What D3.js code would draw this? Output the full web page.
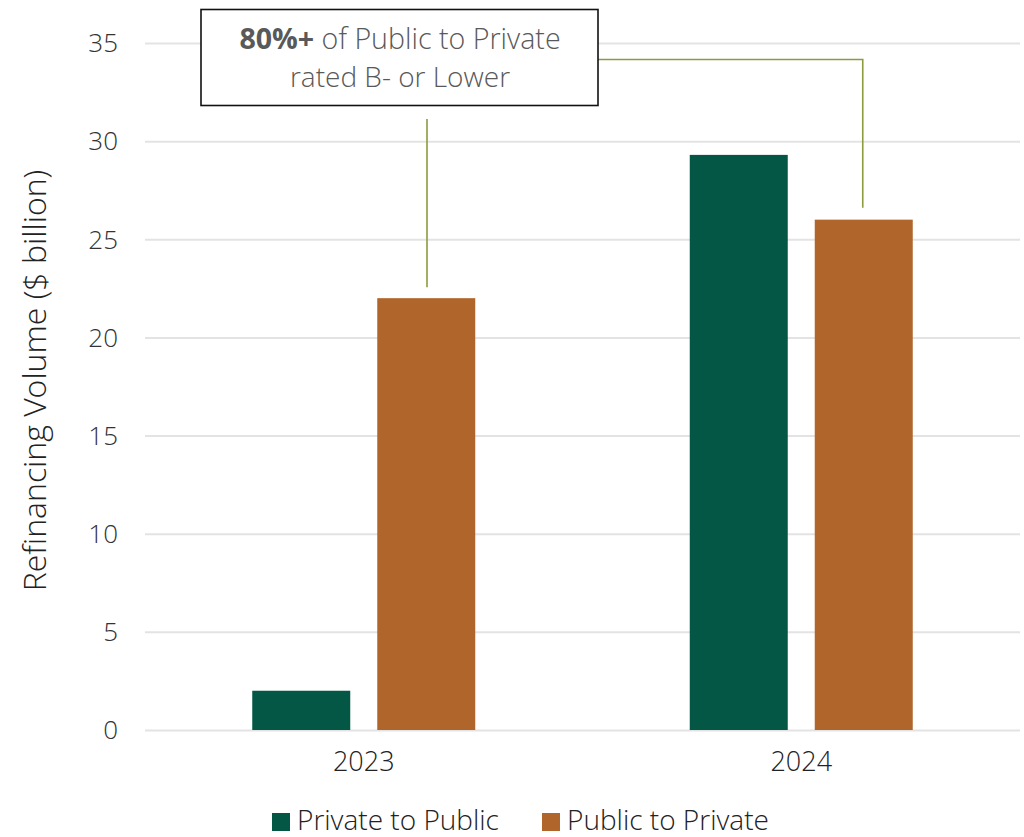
<!DOCTYPE html>
<html>
<head>
<meta charset="utf-8">
<script src="https://cdn.jsdelivr.net/npm/d3@7"></script>
<style>
  html, body { margin: 0; padding: 0; background: #fff; }
  svg { display: block; }
  text { font-family: "Open Sans", "Noto Sans", sans-serif; font-weight: 300; }
</style>
</head>
<body>
<svg id="chart" width="1024" height="837"></svg>
<script>
// Refinancing volume by year and direction ($ billion)
const years = ["2023", "2024"];
const seriesNames = ["Private to Public", "Public to Private"];
const privateToPublic = [2.0, 29.3];
const publicToPrivate = [22.0, 26.0];
const yTicks = [0, 5, 10, 15, 20, 25, 30, 35];
const seriesColors = ["#035744", "#b0662a"];
const axisTitle = "Refinancing Volume ($ billion)";
const calloutBold = "80%+";
const calloutRest = " of Public to Private";
const calloutLine2 = "rated B- or Lower";

const svg = d3.select("#chart");
const margin = { left: 145, right: 4, top: 43, bottom: 107 };
const W = 1024, H = 837;

const x0 = d3.scaleBand().domain(years).range([margin.left, W - margin.right]).paddingInner(0).paddingOuter(0);
const x1 = d3.scaleBand().domain(seriesNames).range([0, 223]).paddingInner(0.216);
const groupOffset = (x0.bandwidth() - 223) / 2;
const y = d3.scaleLinear().domain([0, 35]).range([H - margin.bottom, margin.top]);

// gridlines
const yAxis = d3.axisLeft(y).tickValues(yTicks).tickSize(-(W - margin.right - margin.left)).tickPadding(27);
const gy = svg.append("g").attr("transform", `translate(${margin.left},0)`).call(yAxis);
gy.select(".domain").remove();
gy.selectAll(".tick line").attr("stroke", "#e3e3e3").attr("stroke-width", 2);
gy.selectAll(".tick text").attr("fill", "#333").style("font-size", "26px").attr("dy", "0.34em");

const data = years.map((yr, i) => ({ year: yr, values: [privateToPublic[i], publicToPrivate[i]] }));

const groups = svg.append("g").selectAll("g").data(data).join("g")
  .attr("transform", d => `translate(${x0(d.year) + groupOffset},0)`);
groups.selectAll("rect").data(d => d.values.map((v, j) => ({ name: seriesNames[j], v, j })))
  .join("rect")
  .attr("x", d => x1(d.name))
  .attr("width", x1.bandwidth())
  .attr("y", d => y(d.v))
  .attr("height", d => y(0) - y(d.v))
  .attr("fill", d => seriesColors[d.j]);

// x axis labels
const xAxis = d3.axisBottom(x0).tickSize(0).tickPadding(22);
const gx = svg.append("g").attr("transform", `translate(0,${y(0)})`).call(xAxis);
gx.select(".domain").remove();
gx.selectAll(".tick text").attr("fill", "#222").style("font-size", "27px");

// axis title
svg.append("text")
  .attr("transform", `translate(46,${(y(0) + y(35)) / 2 - 6}) rotate(-90)`)
  .attr("text-anchor", "middle")
  .attr("fill", "#222")
  .style("font-size", "32px")
  .text(axisTitle);

// legend
const legend = svg.append("g").attr("transform", "translate(272,820)");
const legendX = [0, 270];
seriesNames.forEach((n, i) => {
  const g = legend.append("g").attr("transform", `translate(${legendX[i]},0)`);
  g.append("rect").attr("x", 0).attr("y", -7).attr("width", 18).attr("height", 18).attr("fill", seriesColors[i]);
  g.append("text").attr("x", 25).attr("y", 0).attr("dy", "0.36em").attr("fill", "#222").style("font-size", "28px").text(n);
});

// callout leaders
const leaderColor = "#8c9b3e";
const bar24 = x0("2024") + groupOffset + x1(seriesNames[1]) + x1.bandwidth() / 2;
svg.append("line").attr("x1", 427).attr("x2", 427).attr("y1", 119).attr("y2", y(publicToPrivate[0]) - 11)
  .attr("stroke", leaderColor).attr("stroke-width", 1.6);
svg.append("path")
  .attr("d", `M598,59.5 H${bar24 - 1} V${y(publicToPrivate[1]) - 12}`)
  .attr("fill", "none").attr("stroke", leaderColor).attr("stroke-width", 1.6);

// callout box
svg.append("rect").attr("x", 201).attr("y", 9.5).attr("width", 397).attr("height", 96)
  .attr("fill", "#fff").attr("stroke", "#111").attr("stroke-width", 1.6);
const t1 = svg.append("text").attr("x", 400).attr("y", 49).attr("text-anchor", "middle")
  .attr("fill", "#595959").style("font-size", "28.6px");
t1.append("tspan").style("font-weight", "bold").text(calloutBold);
t1.append("tspan").text(calloutRest);
svg.append("text").attr("x", 400).attr("y", 87).attr("text-anchor", "middle")
  .attr("fill", "#595959").style("font-size", "28px").text(calloutLine2);
</script>
</body>
</html>
